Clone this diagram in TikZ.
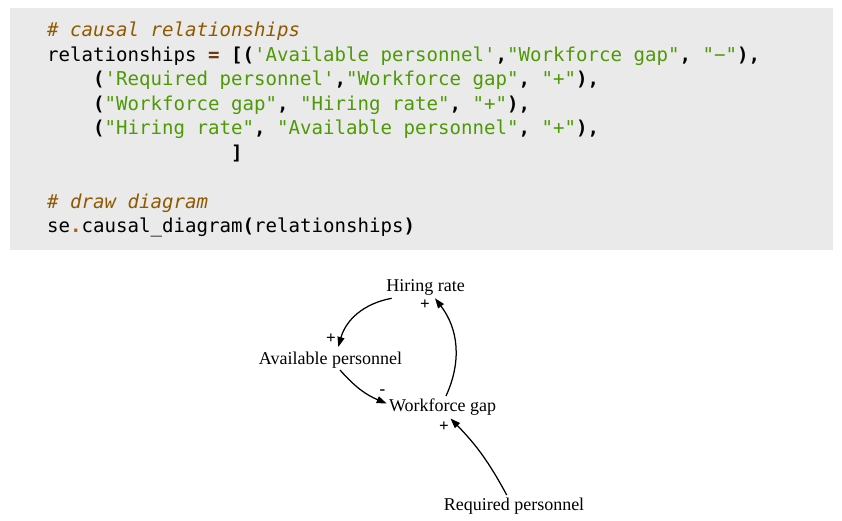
\documentclass[tikz,border=0pt]{standalone}
\usepackage{fontspec}
\setmainfont{Liberation Serif}
\setmonofont{DejaVu Sans Mono}
\usetikzlibrary{arrows.meta}
\definecolor{codebg}{HTML}{EAEAEA}
\definecolor{cmtc}{HTML}{8F5902}
\definecolor{strc}{HTML}{4E9A06}
\definecolor{eqc}{HTML}{6A3A12}
\definecolor{dotc}{HTML}{B35C14}
\newcommand{\cS}[1]{{\color{strc}#1}}
\newcommand{\cP}[1]{{\bfseries #1}}
\newcommand{\cC}[1]{{\itshape\color{cmtc}#1}}
\tikzset{
  codeline/.style={anchor=base west, inner sep=0pt, font=\ttfamily\fontsize{19.1}{24}\selectfont},
  lab/.style={anchor=base, inner sep=0pt, font=\fontsize{18}{20}\selectfont},
  sign/.style={inner sep=0pt, font=\bfseries\fontsize{17}{18}\selectfont},
  link/.style={-{Triangle[length=10pt,width=7pt]}, line width=1.25pt, black}
}
\begin{document}
\begin{tikzpicture}[x=1pt,y=-1pt]
\fill[white] (0,0) rectangle (842,521);
\useasboundingbox (0,0) rectangle (842,521);
\fill[codebg] (10,8) rectangle (833,250);
% code lines
\node[codeline] (l1) at (47,37) {\cC{\# causal relationships}};
\node[codeline] (l2) at (47,61.5) {relationships {\bfseries\color{eqc}=} \cP{[(}\cS{'Available personnel'}\cP{,}\cS{"Workforce gap"}\cP{,} \cS{"−"}\cP{),}};
\node[codeline] (l3) at (93,86) {\cP{(}\cS{'Required personnel'}\cP{,}\cS{"Workforce gap"}\cP{,} \cS{"+"}\cP{),}};
\node[codeline] (l4) at (93,110.5) {\cP{(}\cS{"Workforce gap"}\cP{,} \cS{"Hiring rate"}\cP{,} \cS{"+"}\cP{),}};
\node[codeline] (l5) at (93,135) {\cP{(}\cS{"Hiring rate"}\cP{,} \cS{"Available personnel"}\cP{,} \cS{"+"}\cP{),}};
\node[codeline] (l6) at (231,159.5) {\cP{]}};
\node[codeline] (l8) at (47,208.5) {\cC{\# draw diagram}};
\node[codeline] (l9) at (47,233) {se{\bfseries\color{dotc}.}causal\_diagram\cP{(}relationships\cP{)}};
% diagram nodes
\node[lab] (hr) at (425.5,291.5) {Hiring rate};
\node[lab] (ap) at (330.5,364.3) {Available personnel};
\node[lab] (wg) at (442.5,411.5) {Workforce gap};
\node[lab] (rp) at (514,510) {Required personnel};
% connectors
\draw[link] ([shift={(-33.8,6.8)}]hr.base) to[bend right=32] ([shift={(7.8,-17.3)}]ap.base);
\draw[link] ([shift={(9.5,5.7)}]ap.base) to[bend right=13] ([shift={(-55.8,-8)}]wg.base);
\draw[link] ([shift={(3.5,-15.5)}]wg.base) to[bend right=31] ([shift={(9.5,6.8)}]hr.base);
\draw[link] ([shift={(-7.3,-15)}]rp.base) to[bend right=8] ([shift={(8,7)}]wg.base);
% polarity signs
\node[sign] (s1) at (331,338.5) {+};
\node[sign] (s2) at (382.5,392) {-};
\node[sign] (s3) at (425,305) {+};
\node[sign] (s4) at (444,427) {+};
\end{tikzpicture}
\end{document}
